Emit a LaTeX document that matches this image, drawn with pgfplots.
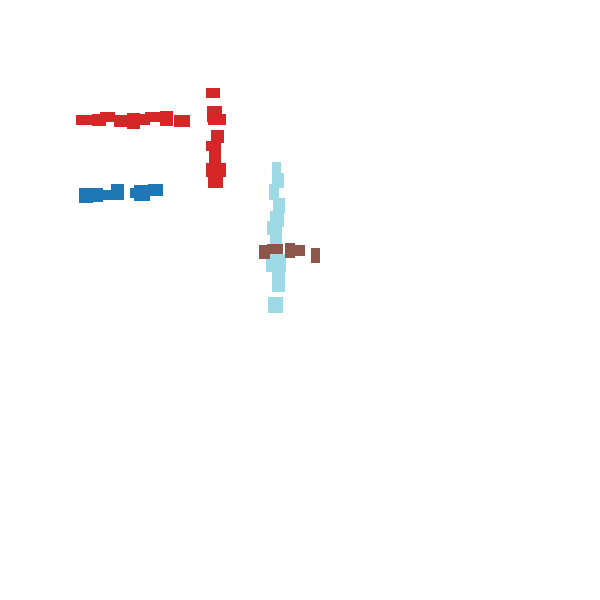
\documentclass[border=0pt]{standalone}
\usepackage{pgfplots}
\pgfplotsset{compat=1.18}
\definecolor{tred}{HTML}{D62728}
\definecolor{tblue}{HTML}{1F77B4}
\definecolor{tlblue}{HTML}{9EDAE5}
\definecolor{tbrown}{HTML}{8C564B}
\pgfdeclareplotmark{rect}{\pgfpathrectanglecorners{\pgfpoint{-\rw pt}{-\rh pt}}{\pgfpoint{\rw pt}{\rh pt}}\pgfusepathqfill}
\begin{document}
\begin{tikzpicture}
\begin{axis}[width=600pt,height=600pt,scale only axis,
  xmin=0,xmax=600,ymin=0,ymax=600,y dir=reverse,hide axis,clip=false,
  visualization depends on={\thisrow{w}/2 \as \rw},
  visualization depends on={\thisrow{h}/2 \as \rh}]
\addplot[only marks,mark=rect,color=tred] table {
x y w h
84 120 16 10
99 120 14 12
107.5 117 15 10
120.5 121 13 12
133.5 121 13 16
145 119.5 10 11
152.5 117 15 10
166.5 118.5 13 15
182 121 16 12
213 93 14 10
214.5 114 15 16
217 119.5 18 11
217.5 136.5 13 13
213.5 146 15 10
215 157 12 14
216 170 20 14
215.5 182 15 12
};
\addplot[only marks,mark=rect,color=tblue] table {
x y w h
86 195 14 15
96 195 14 14
107 195 12 10
117.5 192 13 16
135 193 10 10
142 193 16 16
155.5 190 15 12
};
\addplot[only marks,mark=rect,color=tlblue] table {
x y w h
276.5 168 9 12
278 180.5 12 15
274 192 10 16
279 205.5 12 15
277 219 14 16
274.5 228 15 14
276 237 12 18
276 250 12 14
273 264 14 16
280 263 12 18
278.5 282 13 20
275.5 305 15 16
};
\addplot[only marks,mark=rect,color=tbrown] table {
x y w h
264.5 252 11 14
275 249 16 10
290 250.5 10 15
299.5 250.5 11 11
315.5 255.5 9 15
};
\path (rel axis cs:0,0) rectangle (rel axis cs:1,1);
\end{axis}
\end{tikzpicture}
\end{document}
